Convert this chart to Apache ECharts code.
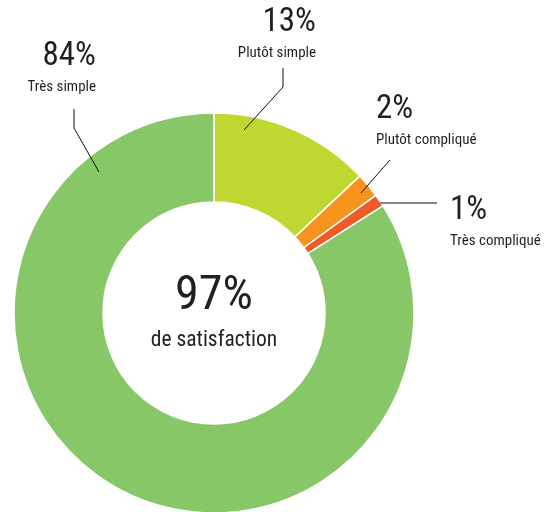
<!DOCTYPE html>
<html>
<head>
<meta charset="utf-8">
<script src="https://cdn.jsdelivr.net/npm/echarts@6/dist/echarts.min.js"></script>
<style>
  html, body { margin: 0; padding: 0; background: #ffffff; }
  #chart { width: 555px; height: 512px; }
</style>
</head>
<body>
<div id="chart"></div>
<script>
// slices, clockwise from 12 o'clock
const categories = ['Plutôt simple', 'Plutôt compliqué', 'Très compliqué', 'Très simple'];
const shares = [13, 2, 1, 84];
const centerValue = '97%';
const centerCaption = 'de satisfaction';

const sliceColors = ['#bfd730', '#f7941d', '#f05a28', '#88c767'];
const font = '"Roboto Condensed", "Liberation Sans Narrow", "DejaVu Sans Condensed", "Noto Sans", sans-serif';
const ink = '#231f20';

// hand placed callouts (same order as categories)
const callouts = [
    { x: 316, y: 3, align: 'right', line: [[244, 130], [283, 87], [283, 68]] },
    { x: 376, y: 90, align: 'left', line: [[361, 193], [375, 177], [390, 160]] },
    { x: 450, y: 191, align: 'left', line: [[380, 203], [410, 203], [437, 203]] },
    { x: 96, y: 37, align: 'right', line: [[99, 172], [74, 128], [74, 109]] }
];

const chartDom = document.getElementById('chart');
const myChart = echarts.init(chartDom);

const pieBase = {
    type: 'pie',
    center: [214, 313],
    radius: [111, 200],
    startAngle: 90,
    clockwise: true,
    avoidLabelOverlap: false,
    emphasis: { disabled: true },
    silent: true
};

const option = {
    animation: false,
    graphic: [
        {
            type: 'text',
            x: 214,
            y: 297,
            style: {
                text: centerValue,
                font: '48px ' + font,
                fill: ink,
                align: 'center',
                verticalAlign: 'middle'
            }
        },
        {
            type: 'text',
            x: 214,
            y: 341,
            style: {
                text: centerCaption,
                font: '21.5px ' + font,
                fill: ink,
                align: 'center',
                verticalAlign: 'middle'
            }
        }
    ],
    series: [
        Object.assign({}, pieBase, {
            z: 2,
            itemStyle: {
                borderColor: '#ffffff',
                borderWidth: 1.5
            },
            label: { show: false },
            labelLine: { show: false },
            data: categories.map(function (name, i) {
                return { name: name, value: shares[i], itemStyle: { color: sliceColors[i] } };
            })
        }),
        // transparent twin on top, only to carry the callouts above the ring
        Object.assign({}, pieBase, {
            z: 3,
            itemStyle: { color: 'rgba(0,0,0,0)', borderWidth: 0 },
            label: {
                show: true,
                position: 'outside',
                formatter: '{p|{c}%}\n{n|{b}}',
                rich: {
                    p: { fontFamily: font, fontSize: 33, lineHeight: 40, color: ink },
                    n: { fontFamily: font, fontSize: 15, lineHeight: 20, color: ink }
                }
            },
            labelLine: {
                show: true,
                lineStyle: { color: '#111111', width: 1 }
            },
            labelLayout: function (params) {
                const c = callouts[params.dataIndex];
                return {
                    x: c.x,
                    y: c.y,
                    align: c.align,
                    verticalAlign: 'top',
                    labelLinePoints: c.line
                };
            },
            data: categories.map(function (name, i) {
                return {
                    name: name,
                    value: shares[i],
                    label: {
                        rich: {
                            p: { align: callouts[i].align },
                            n: { align: callouts[i].align }
                        }
                    }
                };
            })
        })
    ]
};

myChart.setOption(option);
</script>
</body>
</html>
